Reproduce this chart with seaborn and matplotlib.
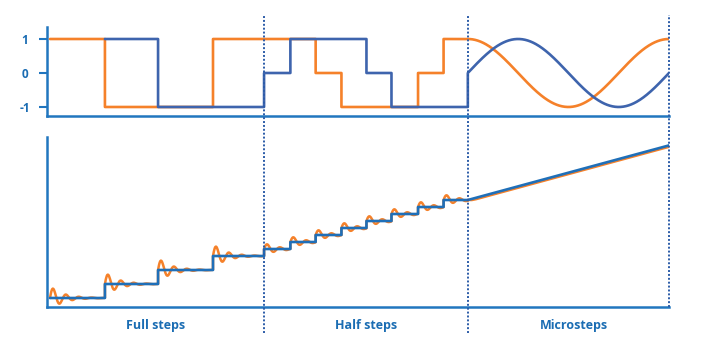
import numpy as np
import pandas as pd
import matplotlib
matplotlib.use("Agg")
import matplotlib.pyplot as plt
import matplotlib.transforms as mtransforms
from matplotlib.lines import Line2D
import seaborn as sns

# ---------------- data ----------------
full_edges = [0.0, 2.13, 4.19, 6.32, 8.3]
half_edges = [8.3, 9.32, 10.3, 11.3, 12.27, 13.24, 14.27, 15.26, 16.2]
micro_end = 24.0

coil_a_full = [1, -1, -1, 1]          # orange
coil_b_full = [np.nan, 1, -1, -1]     # blue
coil_a_half = [1, 1, 0, -1, -1, -1, 0, 1]
coil_b_half = [0, 1, 1, 1, 0, -1, -1, -1]

rotor_full = [0, 1, 2, 3]
rotor_half = [3.5, 4, 4.5, 5, 5.5, 6, 6.5, 7]
rotor_micro_end = 10.9

ring_gain = 0.85      # overshoot relative to step size
ring_decay = 2.0      # 1/time
ring_period = 0.5     # time
micro_lag = 0.2

section_labels = ["Full steps", "Half steps", "Microsteps"]
ytick_values = [1, 0, -1]
ytick_labels = ["1", "0", "-1"]

# ---------------- colours ----------------
ORANGE = "#f5812a"
WAVE_BLUE = "#3e64ad"
STAIR_BLUE = "#1f6fb8"
AXIS_BLUE = "#2176bf"
TEXT_BLUE = "#1b6db3"
DOT_BLUE = "#2c5ca8"

sns.set_style("white")
plt.rcParams["font.family"] = ["Open Sans", "DejaVu Sans"]


def step_points(edges, vals):
    xs, ys = [], []
    for i, v in enumerate(vals):
        if np.isnan(v):
            continue
        xs += [edges[i], edges[i + 1]]
        ys += [v, v]
    return xs, ys


fig = plt.figure(figsize=(7.09, 3.5), dpi=100)
left, width = 47 / 709, (669 - 47) / 709
ax_top = fig.add_axes([left, (350 - 116) / 350, width, (116 - 27) / 350])
ax_bot = fig.add_axes([left, (350 - 307) / 350, width, (307 - 137) / 350])

# ---------------- top panel: coil currents ----------------
tm = np.linspace(half_edges[-1], micro_end, 300)
phase = 2 * np.pi * (tm - half_edges[-1]) / (micro_end - half_edges[-1])

xa, ya = step_points(full_edges, coil_a_full)
xa2, ya2 = step_points(half_edges, coil_a_half)
xa = xa + xa2 + list(tm)
ya = ya + ya2 + list(np.cos(phase))

xb, yb = step_points(full_edges, coil_b_full)
xb2, yb2 = step_points(half_edges, coil_b_half)
xb = xb + xb2 + list(tm)
yb = yb + yb2 + list(np.sin(phase))

df_a = pd.DataFrame({"t": xa, "v": ya})
df_b = pd.DataFrame({"t": xb, "v": yb})
sns.lineplot(data=df_a, x="t", y="v", ax=ax_top, sort=False, estimator=None,
             color=ORANGE, lw=1.9, zorder=3)
sns.lineplot(data=df_b, x="t", y="v", ax=ax_top, sort=False, estimator=None,
             color=WAVE_BLUE, lw=1.9, zorder=4)

ax_top.set_xlim(-0.116, micro_end)
ax_top.set_ylim(-1.265, 1.353)
ax_top.set_yticks(ytick_values)
ax_top.set_yticklabels(ytick_labels, fontweight="bold", fontsize=8.5,
                       color=TEXT_BLUE, ha="center")
ax_top.tick_params(axis="y", length=6, width=1.5, color=AXIS_BLUE,
                   pad=10, left=True, direction="out")
ax_top.set_xticks([])

# ---------------- bottom panel: rotor position ----------------
xs, ys = step_points(full_edges, rotor_full)
xs2, ys2 = step_points(half_edges, rotor_half)
xs = xs + xs2 + [half_edges[-1], micro_end]
ys = ys + ys2 + [rotor_half[-1], rotor_micro_end]

# orange response: damped ringing after each step
ox, oy = [], []
prev = rotor_full[0] - 1
for edges, levels in ((full_edges, rotor_full), (half_edges, rotor_half)):
    for i, lev in enumerate(levels):
        delta = lev - prev
        tau = np.linspace(0, edges[i + 1] - edges[i], 120)
        ring = lev + delta * ring_gain * np.exp(-ring_decay * tau) * np.sin(2 * np.pi * tau / ring_period)
        ox += list(edges[i] + tau)
        oy += list(ring)
        prev = lev
t_micro = np.linspace(half_edges[-1], micro_end, 50)
micro_line = np.interp(t_micro - micro_lag, [half_edges[-1], micro_end],
                       [rotor_half[-1], rotor_micro_end])
ox += list(t_micro)
oy += list(micro_line)

df_o = pd.DataFrame({"t": ox, "v": oy})
df_s = pd.DataFrame({"t": xs, "v": ys})
sns.lineplot(data=df_o, x="t", y="v", ax=ax_bot, sort=False, estimator=None,
             color=ORANGE, lw=1.8, zorder=3)
sns.lineplot(data=df_s, x="t", y="v", ax=ax_bot, sort=False, estimator=None,
             color=STAIR_BLUE, lw=1.9, zorder=4)
ax_bot.set_xlim(-0.116, micro_end)
ax_bot.set_ylim(-0.643, 11.5)
ax_bot.set_xticks([])
ax_bot.set_yticks([])

for ax in (ax_top, ax_bot):
    ax.set_xlabel("")
    ax.set_ylabel("")
    ax.set_facecolor("none")
    for s in ("top", "right"):
        ax.spines[s].set_visible(False)
    for s in ("left", "bottom"):
        ax.spines[s].set_color(AXIS_BLUE)
        ax.spines[s].set_linewidth(1.8)

# ---------------- dotted separators and section labels ----------------
trans = mtransforms.blended_transform_factory(ax_bot.transData, fig.transFigure)
for xv, ybottom in ((half_edges[0], 17 / 350), (half_edges[-1], 17 / 350),
                    (micro_end, 43 / 350)):
    fig.add_artist(Line2D([xv, xv], [ybottom, (350 - 15) / 350], transform=trans,
                          color=DOT_BLUE, lw=1.4, linestyle=(0, (1, 1)), zorder=10))

centers = [(-0.116 + half_edges[0]) / 2, (half_edges[0] + half_edges[-1]) / 2,
           (half_edges[-1] + micro_end) / 2 + 0.2]
for cx, lab in zip(centers, section_labels):
    fig.text(cx, 24 / 350, lab, transform=trans, ha="center", va="center",
             fontsize=9, fontweight="bold", color=TEXT_BLUE)

fig.savefig("out.png", dpi=100)
